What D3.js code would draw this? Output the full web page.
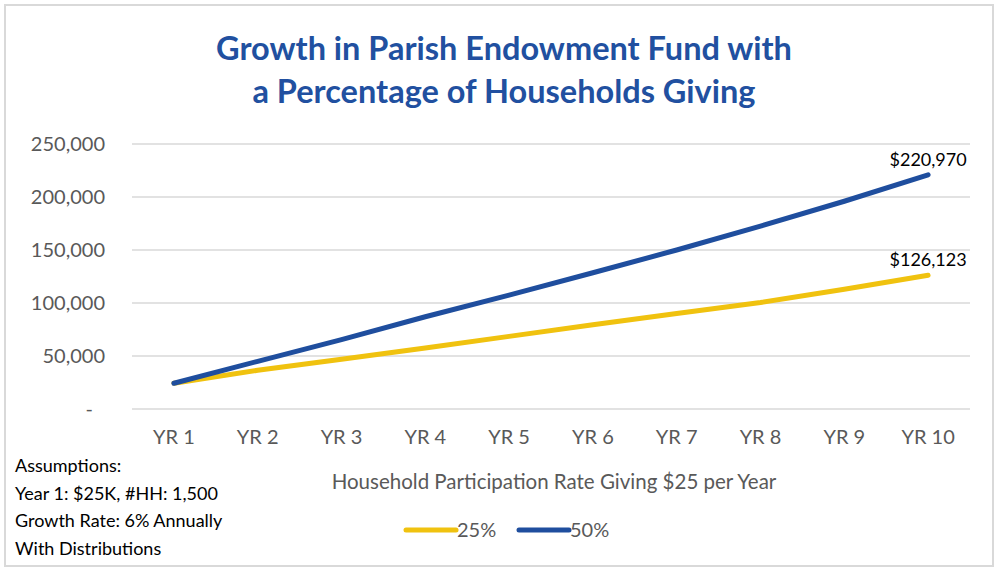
<!DOCTYPE html>
<html>
<head>
<meta charset="utf-8">
<script src="https://cdn.jsdelivr.net/npm/d3@7"></script>
<style>
  body { margin: 0; background: #fff; }
  text { font-family: Lato, "Open Sans", sans-serif; }
</style>
</head>
<body>
<div id="chart"></div>
<script>
// chart data
var years = ["YR 1","YR 2","YR 3","YR 4","YR 5","YR 6","YR 7","YR 8","YR 9","YR 10"];
var pct25 = [24300, 36500, 47000, 57500, 68500, 79500, 90000, 100500, 113000, 126123];
var pct50 = [24300, 45000, 65500, 87000, 107500, 128500, 150000, 172500, 196000, 220970];
var yTicks = [0, 50000, 100000, 150000, 200000, 250000];
var seriesNames = ["25%", "50%"];
var titleLines = ["Growth in Parish Endowment Fund with", "a Percentage of Households Giving"];
var notes = ["Assumptions:", "Year 1: $25K, #HH: 1,500", "Growth Rate: 6% Annually", "With Distributions"];

var W = 1003, H = 573;
var colors = {"25%": "#f0c20f", "50%": "#1f4e9e"};

var svg = d3.select("#chart")
  .append("svg")
    .attr("width", W)
    .attr("height", H);

// outer frame
svg.append("rect")
  .attr("x", 5).attr("y", 5)
  .attr("width", 988).attr("height", 561)
  .attr("fill", "#fff")
  .attr("stroke", "#d9d9d9")
  .attr("stroke-width", 2);

// title
svg.selectAll(".title")
  .data(titleLines)
  .enter()
  .append("text")
    .attr("class", "title")
    .attr("x", 504)
    .attr("y", function(d, i) { return 60 + i * 43; })
    .attr("text-anchor", "middle")
    .attr("fill", "#2150a0")
    .style("font-size", "32.5px")
    .style("font-weight", "bold")
    .text(function(d) { return d; });

// scales
var x = d3.scaleBand()
  .domain(years)
  .range([132, 970]);

var y = d3.scaleLinear()
  .domain([0, 250000])
  .range([409, 144]);

// grid lines
svg.append("g")
  .selectAll("line")
  .data(yTicks)
  .enter()
  .append("line")
    .attr("x1", 132)
    .attr("x2", 970)
    .attr("y1", function(d) { return y(d); })
    .attr("y2", function(d) { return y(d); })
    .attr("stroke", "#d9d9d9")
    .attr("stroke-width", 1.5);

// y axis
var yAxis = svg.append("g")
  .attr("transform", "translate(111,0)")
  .call(d3.axisLeft(y)
    .tickValues(yTicks)
    .tickSize(0)
    .tickPadding(6)
    .tickFormat(function(d) { return d === 0 ? "-" : d3.format(",")(d); }));
yAxis.select(".domain").remove();
yAxis.selectAll("text")
  .attr("fill", "#595959")
  .style("font-size", "20px")
  .style("font-family", "Lato, sans-serif")
  .attr("dx", function(d) { return d === 0 ? -12 : 0; });

// x axis
var xAxis = svg.append("g")
  .attr("transform", "translate(0,425)")
  .call(d3.axisBottom(x).tickSize(0).tickPadding(5));
xAxis.select(".domain").remove();
xAxis.selectAll("text")
  .attr("fill", "#595959")
  .style("font-size", "20px")
  .style("font-family", "Lato, sans-serif");

// x axis title
svg.append("text")
  .attr("x", 554)
  .attr("y", 489)
  .attr("text-anchor", "middle")
  .attr("fill", "#595959")
  .style("font-size", "20.5px")
  .text("Household Participation Rate Giving $25 per Year");

// lines
var series = [
  {name: "25%", values: pct25},
  {name: "50%", values: pct50}
];

var line = d3.line()
  .x(function(d, i) { return x(years[i]) + x.bandwidth() / 2; })
  .y(function(d) { return y(d); });

svg.selectAll(".series")
  .data(series)
  .enter()
  .append("path")
    .attr("class", "series")
    .attr("fill", "none")
    .attr("stroke", function(d) { return colors[d.name]; })
    .attr("stroke-width", 5)
    .attr("stroke-linecap", "round")
    .attr("stroke-linejoin", "round")
    .attr("d", function(d) { return line(d.values); });

// end labels
svg.selectAll(".endlabel")
  .data(series)
  .enter()
  .append("text")
    .attr("class", "endlabel")
    .attr("x", function(d) { return x(years[years.length - 1]) + x.bandwidth() / 2; })
    .attr("y", function(d) { return y(d.values[d.values.length - 1]) - 9; })
    .attr("text-anchor", "middle")
    .attr("fill", "#000")
    .style("font-size", "18px")
    .text(function(d) { return "$" + d3.format(",")(d.values[d.values.length - 1]); });

// legend
var legend = svg.selectAll(".legend")
  .data(seriesNames)
  .enter()
  .append("g")
    .attr("class", "legend")
    .attr("transform", function(d, i) { return "translate(" + (406 + i * 113) + ",530)"; });
legend.append("line")
  .attr("x1", 0).attr("x2", 50)
  .attr("stroke", function(d) { return colors[d]; })
  .attr("stroke-width", 5)
  .attr("stroke-linecap", "round");
legend.append("text")
  .attr("x", 51)
  .attr("y", 7)
  .attr("fill", "#595959")
  .style("font-size", "20px")
  .text(function(d) { return d; });

// assumptions note
svg.selectAll(".note")
  .data(notes)
  .enter()
  .append("text")
    .attr("class", "note")
    .attr("x", 15)
    .attr("y", function(d, i) { return 472 + i * 27.5; })
    .attr("fill", "#000")
    .style("font-size", "18px")
    .text(function(d) { return d; });
</script>
</body>
</html>
